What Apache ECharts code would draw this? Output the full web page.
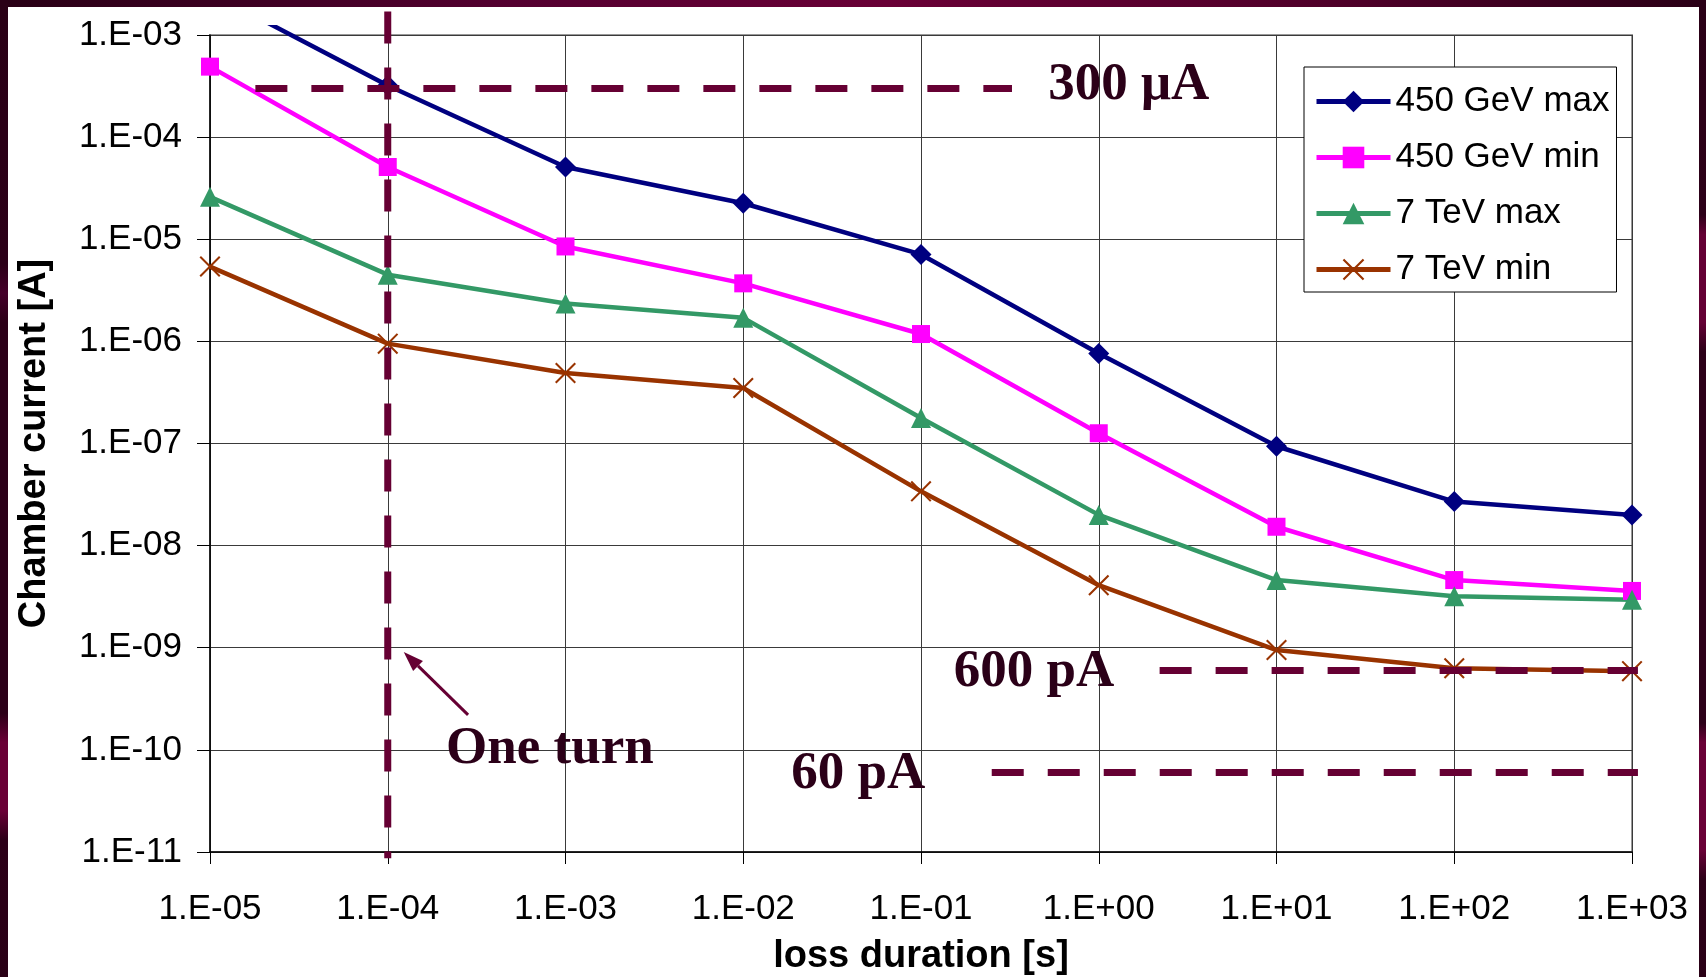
<!DOCTYPE html>
<html>
<head>
<meta charset="utf-8">
<script src="https://cdn.jsdelivr.net/npm/echarts@6/dist/echarts.min.js"></script>
<style>
  html, body { margin: 0; padding: 0; background: #fff; overflow: hidden; }
  #chart { width: 1706px; height: 977px; }
</style>
</head>
<body>
<div id="chart"></div>
<script>
// Loss duration [s] at which each chamber current was evaluated
const lossDurations = [1e-5, 1e-4, 1e-3, 1e-2, 1e-1, 1e0, 1e1, 1e2, 1e3];

// Tick labels, spreadsheet-style exponent notation
const xTickLabels = ['1.E-05', '1.E-04', '1.E-03', '1.E-02', '1.E-01', '1.E+00', '1.E+01', '1.E+02', '1.E+03'];
const yTickLabels = ['1.E-11', '1.E-10', '1.E-09', '1.E-08', '1.E-07', '1.E-06', '1.E-05', '1.E-04', '1.E-03'];

// Chamber current [A] per loss duration
const seriesNames = ['450 GeV max', '450 GeV min', '7 TeV max', '7 TeV min'];
const gev450Max = [2.6e-3, 3.2e-4, 5.1e-5, 2.25e-5, 7.1e-6, 7.6e-7, 9.4e-8, 2.7e-8, 2.0e-8];
const gev450Min = [4.9e-4, 5.1e-5, 8.5e-6, 3.7e-6, 1.18e-6, 1.26e-7, 1.53e-8, 4.6e-9, 3.6e-9];
const tev7Max   = [2.6e-5, 4.5e-6, 2.35e-6, 1.7e-6, 1.78e-7, 2.0e-8, 4.6e-9, 3.2e-9, 2.95e-9];
const tev7Min   = [5.4e-6, 9.5e-7, 4.9e-7, 3.5e-7, 3.4e-8, 4.1e-9, 9.5e-10, 6.3e-10, 5.9e-10];

// Current limits of the readout (horizontal dashed lines) and the loss durations they span
const limitLabels = ['300 μA', '600 pA', '60 pA'];
const limitValues = [3e-4, 6e-10, 6e-11];
const limitSpans  = [[1.8e-5, 0.325], [2.2, 1.08e3], [0.25, 1.08e3]];
// Where each limit label sits (loss duration, current)
const limitLabelAnchors = [[0.52, 3.35e-4], [0.153, 6e-10], [0.0186, 6e-11]];

// Duration of one LHC turn (~89 µs), marked by a vertical dashed line
const oneTurnLabel = 'One turn';
const oneTurnDuration = 1e-4;
const oneTurnCurrentSpan = [1.7e-3, 8.7e-12];
const oneTurnLabelAnchor = [2.13e-4, 1.05e-10];
const oneTurnArrow = [[2.83e-4, 2.2e-10], [1.23e-4, 9.1e-10]];

const SERIF = '"Liberation Serif", "Times New Roman", serif';
const SANS = '"Liberation Sans", Arial, sans-serif';
const MAROON = '#660033';
const INK = '#2b0018';

const pairs = ys => lossDurations.map((x, i) => [x, ys[i]]);
const expIndex = (v, base) => Math.round(Math.log10(v)) - base;

const crossSymbol = 'path://M0,1.4L1.4,0L10,8.6L18.6,0L20,1.4L11.4,10L20,18.6L18.6,20L10,11.4L1.4,20L0,18.6L8.6,10Z';

const chart = echarts.init(document.getElementById('chart'), null, { renderer: 'canvas' });

const axisCommon = {
  type: 'log',
  logBase: 10,
  interval: 1,
  axisLine: { show: true, lineStyle: { color: '#000', width: 1.5 } },
  axisTick: { show: true, inside: false, lineStyle: { color: '#000', width: 1 } },
  splitLine: { show: true, lineStyle: { color: '#3a3a3a', width: 1 } },
  minorTick: { show: false },
  minorSplitLine: { show: false },
  nameLocation: 'middle',
  nameTextStyle: { fontFamily: SANS, fontWeight: 'bold', fontSize: 38, color: '#000' }
};

const option = {
  backgroundColor: '#fff',
  animation: false,
  grid: {
    left: 210, top: 35, right: 74, bottom: 125,
    containLabel: false,
    outerBoundsMode: 'none',
    show: true,
    borderColor: '#999',
    borderWidth: 2,
    backgroundColor: 'transparent'
  },
  legend: {
    orient: 'vertical',
    left: 1304,
    top: 67,
    padding: [17, 7, 5, 10],
    itemWidth: 74,
    itemHeight: 27,
    itemGap: 21,
    borderColor: '#000',
    borderWidth: 1,
    backgroundColor: '#fff',
    lineStyle: { width: 5 },
    textStyle: { fontFamily: SANS, fontSize: 35, color: '#000', lineHeight: 28 },
    data: seriesNames
  },
  xAxis: Object.assign({}, axisCommon, {
    min: 1e-5,
    max: 1e3,
    name: 'loss duration [s]',
    nameGap: 86,
    axisTick: { show: true, inside: false, length: 12, lineStyle: { color: '#000', width: 1 } },
    axisLabel: {
      margin: 40,
      fontFamily: SANS,
      fontSize: 35,
      color: '#000',
      showMinLabel: true,
      showMaxLabel: true,
      formatter: v => xTickLabels[expIndex(v, -5)]
    }
  }),
  yAxis: Object.assign({}, axisCommon, {
    min: 1e-11,
    max: 1e-3,
    name: 'Chamber current [A]',
    nameRotate: 90,
    nameGap: 156,
    axisTick: { show: true, inside: false, length: 13, lineStyle: { color: '#000', width: 1 } },
    axisLabel: {
      margin: 28,
      fontFamily: SANS,
      fontSize: 35,
      color: '#000',
      showMinLabel: true,
      showMaxLabel: true,
      formatter: v => yTickLabels[expIndex(v, -11)]
    }
  }),
  series: [
    {
      name: seriesNames[0], type: 'line', data: pairs(gev450Max),
      color: '#000080', symbol: 'diamond', symbolSize: 21,
      lineStyle: { width: 4.5 }, itemStyle: { borderWidth: 0 }, clip: false, z: 2
    },
    {
      name: seriesNames[1], type: 'line', data: pairs(gev450Min),
      color: '#ff00ff', symbol: 'rect', symbolSize: 18,
      lineStyle: { width: 4.5 }, itemStyle: { borderWidth: 0 }, z: 2
    },
    {
      name: seriesNames[2], type: 'line', data: pairs(tev7Max),
      color: '#339966', symbol: 'triangle', symbolSize: 20,
      lineStyle: { width: 4.5 }, itemStyle: { borderWidth: 0 }, z: 2
    },
    {
      name: seriesNames[3], type: 'line', data: pairs(tev7Min),
      color: '#993300', symbol: crossSymbol, symbolSize: 21,
      lineStyle: { width: 4.5 }, itemStyle: { borderWidth: 0 }, z: 2
    }
  ]
};

chart.setOption(option);

// Annotations placed through the axes' own scales
const px = (x, y) => chart.convertToPixel({ gridIndex: 0 }, [x, y]);
const graphics = [];

function dashedLine(p1, p2) {
  graphics.push({
    type: 'line', z: 50, silent: true,
    shape: { x1: p1[0], y1: p1[1], x2: p2[0], y2: p2[1] },
    style: { stroke: MAROON, lineWidth: 7, lineDash: [32, 24], lineCap: 'butt' }
  });
}
function label(text, p) {
  // +2 px: centres the serif digits (rather than the em box) on the anchor
  graphics.push({
    type: 'text', z: 50, silent: true,
    style: {
      text: text, x: p[0], y: p[1] + 2,
      font: 'bold 53px ' + SERIF,
      fill: INK, align: 'left', verticalAlign: 'middle'
    }
  });
}

limitValues.forEach((v, i) => {
  dashedLine(px(limitSpans[i][0], v), px(limitSpans[i][1], v));
  label(limitLabels[i], px(limitLabelAnchors[i][0], limitLabelAnchors[i][1]));
});

dashedLine(px(oneTurnDuration, oneTurnCurrentSpan[0]), px(oneTurnDuration, oneTurnCurrentSpan[1]));
label(oneTurnLabel, px(oneTurnLabelAnchor[0], oneTurnLabelAnchor[1]));

// Arrow pointing at the one-turn line
(function () {
  const tail = px(oneTurnArrow[0][0], oneTurnArrow[0][1]);
  const tip = px(oneTurnArrow[1][0], oneTurnArrow[1][1]);
  const dx = tip[0] - tail[0], dy = tip[1] - tail[1];
  const len = Math.hypot(dx, dy);
  const ux = dx / len, uy = dy / len;
  const headLen = 20, headHalf = 7;
  const base = [tip[0] - ux * headLen, tip[1] - uy * headLen];
  graphics.push({
    type: 'line', z: 50, silent: true,
    shape: { x1: tail[0], y1: tail[1], x2: base[0], y2: base[1] },
    style: { stroke: MAROON, lineWidth: 3 }
  });
  graphics.push({
    type: 'polygon', z: 50, silent: true,
    shape: { points: [tip, [base[0] - uy * headHalf, base[1] + ux * headHalf], [base[0] + uy * headHalf, base[1] - ux * headHalf]] },
    style: { fill: MAROON }
  });
})();

// White margin above the plot area: the steep first segment fades out under it
graphics.push({
  type: 'rect', z: 3, silent: true,
  shape: { x: 196, y: 0, width: 1510, height: 25 },
  style: { fill: '#fff' }
});

// Slide frame
graphics.push({
  type: 'rect', z: 100, silent: true,
  shape: { x: 0, y: 0, width: 1706, height: 7 },
  style: {
    fill: new echarts.graphic.LinearGradient(0, 0, 1, 0, [
      { offset: 0, color: '#280015' },
      { offset: 0.3, color: '#540030' },
      { offset: 0.52, color: '#690036' },
      { offset: 0.8, color: '#4d0028' },
      { offset: 1, color: '#2a0016' }
    ])
  }
});
graphics.push({
  type: 'rect', z: 100, silent: true,
  shape: { x: 0, y: 0, width: 8, height: 977 },
  style: {
    fill: new echarts.graphic.LinearGradient(0, 0, 0, 1, [
      { offset: 0, color: '#2a0016' },
      { offset: 0.27, color: '#2c0018' },
      { offset: 0.3, color: '#45002a' },
      { offset: 0.33, color: '#2c0018' },
      { offset: 0.73, color: '#2c0018' },
      { offset: 0.76, color: '#6a0036' },
      { offset: 0.83, color: '#6a0036' },
      { offset: 0.86, color: '#2c0018' },
      { offset: 1, color: '#2a0016' }
    ])
  }
});
graphics.push({
  type: 'rect', z: 100, silent: true,
  shape: { x: 1699, y: 0, width: 7, height: 977 },
  style: {
    fill: new echarts.graphic.LinearGradient(0, 0, 0, 1, [
      { offset: 0, color: '#2a0016' },
      { offset: 0.22, color: '#2c0018' },
      { offset: 0.24, color: '#640034' },
      { offset: 0.33, color: '#640034' },
      { offset: 0.36, color: '#2c0018' },
      { offset: 0.74, color: '#2c0018' },
      { offset: 0.76, color: '#690036' },
      { offset: 0.87, color: '#690036' },
      { offset: 0.9, color: '#2c0018' },
      { offset: 1, color: '#2a0016' }
    ])
  }
});

chart.setOption({ graphic: graphics });
</script>
</body>
</html>
